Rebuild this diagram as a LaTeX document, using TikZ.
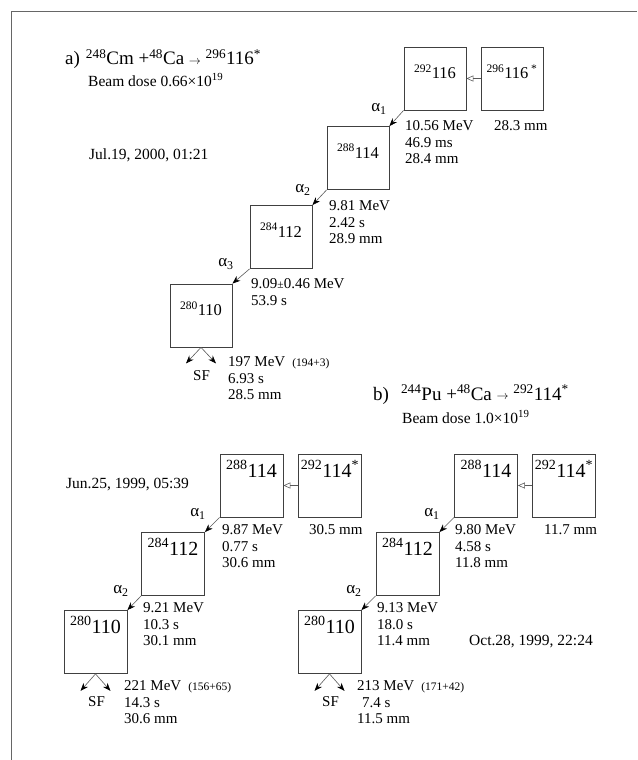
\documentclass[tikz,border=0pt]{standalone}
\usepackage{fontspec}
\setmainfont{Liberation Serif}
\usetikzlibrary{arrows.meta}
\newcommand\bodyfont{\rmfamily\fontsize{15}{15.5}\selectfont}
\newcommand\hdfont{\rmfamily\fontsize{19}{21}\selectfont}
\newcommand\datefont{\rmfamily\fontsize{15.5}{18}\selectfont}
\newcommand\parfont{\rmfamily\fontsize{11.5}{13}\selectfont}
\newcommand\nucfontA{\rmfamily\fontsize{16.5}{18}\selectfont}
\newcommand\nucfontB{\rmfamily\fontsize{20}{22}\selectfont}
\newcommand\alfont{\rmfamily\fontsize{17}{19}\selectfont}
\newcommand\iso[2]{\textsuperscript{#1}#2}
\newcommand\goes{\raisebox{1pt}{\fontsize{13}{13}\selectfont$\rightarrow$}}
\begin{document}
\begin{tikzpicture}[x=1pt,y=-1pt, every node/.style={font=\bodyfont,inner sep=0pt}]
  \tikzstyle{nucA}=[draw=black!75,line width=0.8pt,minimum width=62pt,minimum height=63pt,font=\nucfontA,text height=12pt,text depth=12pt]
  \tikzstyle{nucB}=[draw=black!75,line width=0.8pt,minimum width=63pt,minimum height=63pt,font=\nucfontB,text height=13pt,text depth=30pt]
  \tikzstyle{dat}=[anchor=north west,align=left]
  \tikzstyle{ln}=[anchor=base west]
  \tikzstyle{al}=[font=\alfont]
  \tikzstyle{dec}=[gray!70!black,line width=0.6pt,-{Stealth[black,length=8pt,width=6pt]}]
  \tikzstyle{opn}=[gray!70!black,line width=0.6pt,-{Triangle[open,length=7pt,width=6pt]}]
  \useasboundingbox (0,0) rectangle (637,760);
  \draw[gray!80!black,line width=1.5pt] (637,11.5) -- (11.5,11.5) -- (11.5,760);

  % a)
  \node[ln,font=\hdfont] (ha) at (65,65) {a)\hspace{6pt}\iso{248}{Cm} +\iso{48}{Ca} \goes{} \iso{296}{116}\textsuperscript{*}};
  \node[ln,font=\datefont] (bda) at (88,86) {Beam dose 0.66\texttimes10\textsuperscript{19}};
  \node[ln,font=\datefont] (dta) at (89,159) {Jul.19, 2000, 01:21};
  \node[nucA] (a292) at (435,78.5) {\iso{292}{116}};
  \node[nucA] (a296) at (512,78.5) {\iso{296}{116}\,\textsuperscript{*}};
  \node[nucA] (a288) at (358,158) {\iso{288}{114}};
  \node[nucA] (a284) at (281,237) {\iso{284}{112}};
  \node[nucA] (a280) at (201,315.5) {\iso{280}{110}};
  \draw[opn] (a296.west) -- (a292.east);
  \draw[dec] (a292.south west) -- (a288.north east);
  \draw[dec] (a288.south west) -- (a284.north east);
  \draw[dec] (a284.south west) -- (a280.north east);
  \draw[dec] (a280.south) -- ([xshift=-15pt,yshift=-16pt]a280.south);
  \draw[dec] (a280.south) -- ([xshift=15pt,yshift=-16pt]a280.south);
  \node[al] (aa1) at (379,109) {α\textsubscript{1}};
  \node[al] (aa2) at (303,190) {α\textsubscript{2}};
  \node[al] (aa3) at (226,264) {α\textsubscript{3}};
  \node[dat] (da1) at (405,120) {10.56 MeV\\[2pt]46.9 ms\\28.4 mm};
  \node[dat] (ma296) at (494,120) {28.3 mm};
  \node[dat] (da2) at (329,200) {9.81 MeV\\[2pt]2.42 s\\28.9 mm};
  \node[dat] (da3) at (251,278) {9.09{\parfont ±}0.46 MeV\\[2pt]53.9 s};
  \node[dat] (sfa) at (228,356) {197 MeV\hspace{7pt}{\parfont (194+3)}\\[2pt]6.93 s\\28.5 mm};
  \node[ln] (sfla) at (193,380) {SF};

  % b)
  \node[ln,font=\hdfont] (hb) at (373,400) {b)\hspace{12pt}\iso{244}{Pu} +\iso{48}{Ca} \goes{} \iso{292}{114}\textsuperscript{*}};
  \node[ln,font=\datefont] (bdb) at (402,423) {Beam dose 1.0\texttimes10\textsuperscript{19}};
  \node[ln,font=\datefont] (dtl) at (66,488) {Jun.25, 1999, 05:39};
  \node[ln,font=\datefont] (dtr) at (469,645) {Oct.28, 1999, 22:24};

  \node[nucB] (l288) at (251.5,485.5) {\iso{288}{114}};
  \node[nucB] (l292) at (330,485.5) {\iso{292}{114}\textsuperscript{*}};
  \node[nucB] (l284) at (173,564) {\iso{284}{112}};
  \node[nucB] (l280) at (95.5,642) {\iso{280}{110}};
  \draw[opn] (l292.west) -- (l288.east);
  \draw[dec] (l288.south west) -- (l284.north east);
  \draw[dec] (l284.south west) -- (l280.north east);
  \draw[dec] (l280.south) -- ([xshift=-15pt,yshift=-17pt]l280.south);
  \draw[dec] (l280.south) -- ([xshift=15pt,yshift=-17pt]l280.south);
  \node[al] (la1) at (198,514) {α\textsubscript{1}};
  \node[al] (la2) at (121,591) {α\textsubscript{2}};
  \node[dat] (dl1) at (222,524) {9.87 MeV\\[2pt]0.77 s\\30.6 mm};
  \node[dat] (ml292) at (309,524) {30.5 mm};
  \node[dat] (dl2) at (143,602) {9.21 MeV\\[2pt]10.3 s\\30.1 mm};
  \node[dat] (sfl) at (124,680) {221 MeV\hspace{7pt}{\parfont (156+65)}\\[2pt]14.3 s\\30.6 mm};
  \node[ln] (sfll) at (88,706) {SF};

  \node[nucB] (r288) at (486,485.5) {\iso{288}{114}};
  \node[nucB] (r292) at (564,485.5) {\iso{292}{114}\textsuperscript{*}};
  \node[nucB] (r284) at (407.5,564) {\iso{284}{112}};
  \node[nucB] (r280) at (329.5,642) {\iso{280}{110}};
  \draw[opn] (r292.west) -- (r288.east);
  \draw[dec] (r288.south west) -- (r284.north east);
  \draw[dec] (r284.south west) -- (r280.north east);
  \draw[dec] (r280.south) -- ([xshift=-15pt,yshift=-17pt]r280.south);
  \draw[dec] (r280.south) -- ([xshift=15pt,yshift=-17pt]r280.south);
  \node[al] (ra1) at (432,514) {α\textsubscript{1}};
  \node[al] (ra2) at (354,591) {α\textsubscript{2}};
  \node[dat] (dr1) at (455,524) {9.80 MeV\\[2pt]4.58 s\\11.8 mm};
  \node[dat] (mr292) at (544,524) {11.7 mm};
  \node[dat] (dr2) at (377,602) {9.13 MeV\\[2pt]18.0 s\\11.4 mm};
  \node[dat] (sfr) at (357,680) {213 MeV\hspace{7pt}{\parfont (171+42)}\\[2pt]\hspace{5pt}7.4 s\\11.5 mm};
  \node[ln] (sfrl) at (322,706) {SF};
\end{tikzpicture}
\end{document}
